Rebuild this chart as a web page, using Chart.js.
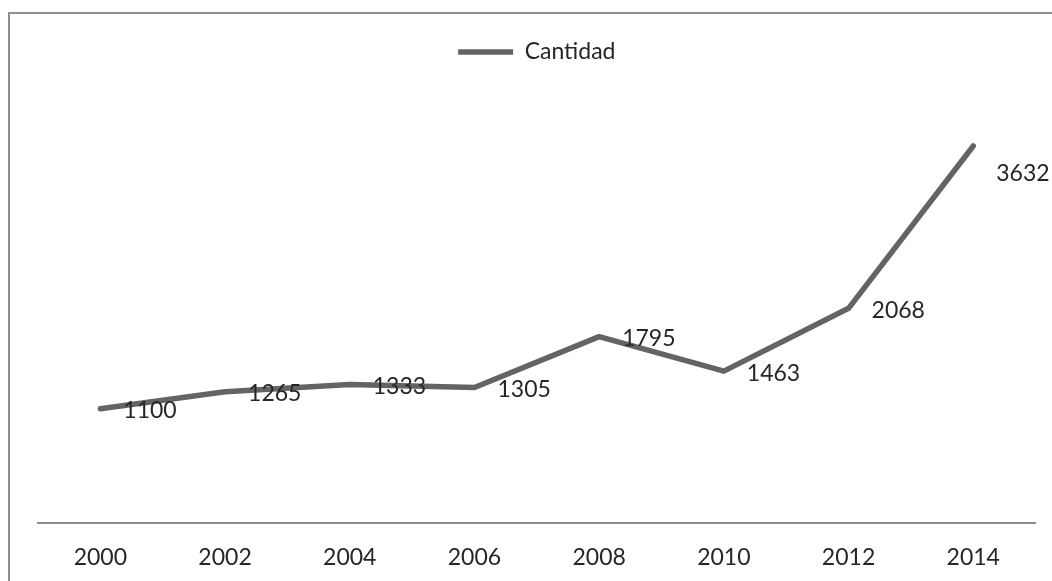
<!DOCTYPE html>
<html>
<head>
<meta charset="utf-8">
<script src="https://cdn.jsdelivr.net/npm/chart.js@4/dist/chart.umd.min.js"></script>
<style>
  html, body { margin: 0; padding: 0; background: #ffffff; }
  body { width: 1052px; height: 581px; position: relative; overflow: hidden; }
  #frame { position: absolute; left: 8px; top: 12px; width: 1100px; height: 620px; border: 2px solid #8f8f8f; box-sizing: border-box; }
  #wrap { position: absolute; left: 0; top: 0; width: 1052px; height: 604px; }
</style>
</head>
<body>
<div id="frame"></div>
<div id="wrap"><canvas id="c" width="1052" height="604"></canvas></div>
<script>
const categories = ['2000', '2002', '2004', '2006', '2008', '2010', '2012', '2014'];
const cantidad = [1100, 1265, 1333, 1305, 1795, 1463, 2068, 3632];
const seriesName = 'Cantidad';

const FONT = 'Lato, "Open Sans", sans-serif';
const FS = 23;

const dataLabels = {
  id: 'dataLabels',
  afterDatasetsDraw(chart, args, opts) {
    const ctx = chart.ctx;
    const meta = chart.getDatasetMeta(0);
    const ds = chart.data.datasets[0];
    ctx.save();
    ctx.font = FS + 'px ' + FONT;
    ctx.fillStyle = opts.color;
    ctx.textAlign = 'left';
    ctx.textBaseline = 'middle';
    meta.data.forEach((pt, i) => {
      const dy = (opts.dy[i] !== undefined ? opts.dy[i] : opts.defaultDy);
      ctx.fillText(String(ds.data[i]), pt.x + opts.dx, pt.y + dy);
    });
    ctx.restore();
  }
};

new Chart(document.getElementById('c'), {
  type: 'line',
  data: {
    labels: categories,
    datasets: [{
      label: seriesName,
      data: cantidad,
      borderColor: '#646464',
      backgroundColor: '#646464',
      borderWidth: 5.5,
      borderCapStyle: 'round',
      borderJoinStyle: 'round',
      pointRadius: 0,
      pointHoverRadius: 0,
      tension: 0,
      fill: false
    }]
  },
  options: {
    responsive: false,
    animation: false,
    events: [],
    layout: { padding: { left: 38, right: 16.4, top: 17.7, bottom: 11.4 } },
    plugins: {
      legend: {
        display: true,
        position: 'top',
        align: 'center',
        labels: {
          usePointStyle: true,
          pointStyle: 'line',
          pointStyleWidth: 55,
          boxHeight: 5,
          padding: 22.8,
          color: '#262626',
          font: { family: FONT, size: FS }
        }
      },
      tooltip: { enabled: false },
      dataLabels: { color: '#262626', dx: 23, defaultDy: 2, dy: { 7: 28 } }
    },
    scales: {
      x: {
        offset: true,
        grid: { display: false, drawTicks: false },
        border: { display: true, color: '#8c8c8c', width: 2 },
        ticks: { color: '#262626', padding: 21, font: { family: FONT, size: FS } }
      },
      y: {
        display: false,
        min: 0,
        max: 4330
      }
    }
  },
  plugins: [dataLabels]
});
</script>
</body>
</html>
